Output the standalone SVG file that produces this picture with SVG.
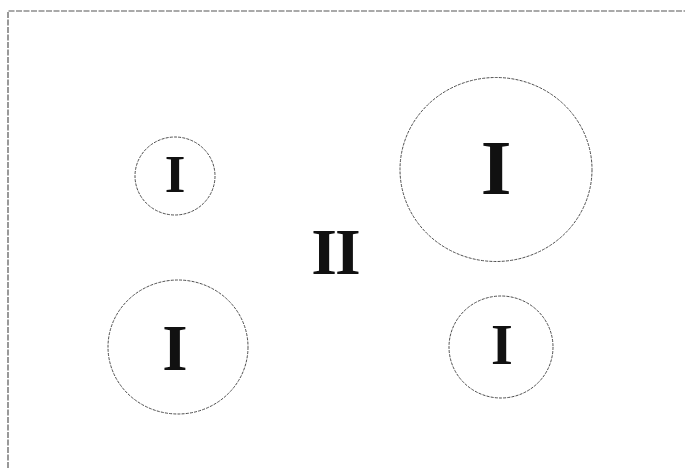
<svg xmlns="http://www.w3.org/2000/svg" width="685" height="468" viewBox="0 0 685 468">
<style>
.c{fill:none;stroke:#3a3a3a;stroke-width:0.9;stroke-dasharray:3 1.2}
.b{fill:none;stroke:#555;stroke-width:1.2;stroke-dasharray:6 1.5}
.t{font-family:"Liberation Serif","Times New Roman",serif;font-weight:bold;fill:#111;text-anchor:middle}
</style>
<rect width="685" height="468" fill="#fff"/>
<path class="b" d="M8,468 V11 H685"/>
<g id="n1"><ellipse class="c" cx="175" cy="176" rx="40" ry="39"/><text class="t" x="175" y="192" font-size="53">I</text></g>
<g id="n2"><ellipse class="c" cx="496" cy="169.5" rx="96" ry="92"/><text class="t" x="496" y="194" font-size="79">I</text></g>
<g id="n3"><ellipse class="c" cx="178" cy="347" rx="70" ry="67"/><text class="t" x="175" y="370" font-size="65">I</text></g>
<g id="n4"><ellipse class="c" cx="501" cy="347" rx="52" ry="51"/><text class="t" x="502" y="364" font-size="56">I</text></g>
<g id="n5"><text class="t" x="335" y="274" font-size="66" letter-spacing="-2">II</text></g>
<g id="connectors"/>
</svg>
